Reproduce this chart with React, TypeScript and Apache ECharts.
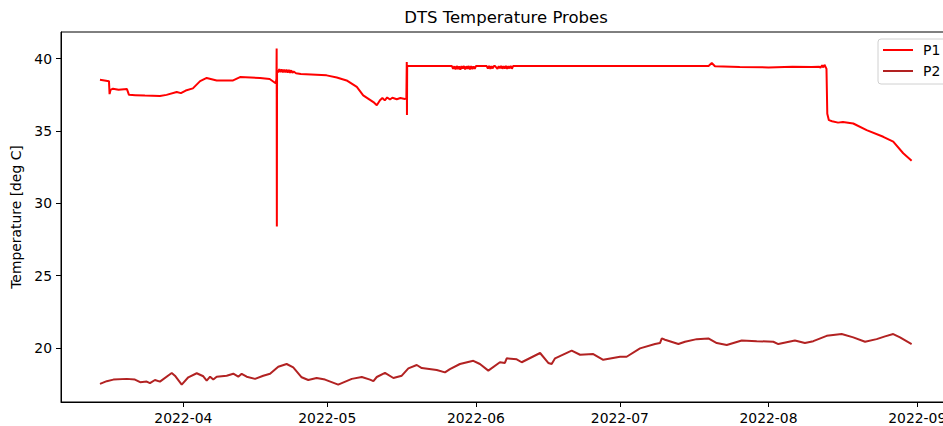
import React, { useEffect, useRef } from "react";
import * as echarts from "echarts";

const titleText = "DTS Temperature Probes";
const yAxisName = "Temperature [deg C]";
const seriesNames = ["P1", "P2"];
const monthTicks = ["2022-04", "2022-05", "2022-06", "2022-07", "2022-08", "2022-09"];
const yTicks = [20, 25, 30, 35, 40];

const p1Times = [
  "2022-03-14 15:00", "2022-03-16 12:00", "2022-03-16 15:00", "2022-03-16 20:00", "2022-03-17 08:00",
  "2022-03-18 12:00", "2022-03-20 06:00", "2022-03-20 16:00", "2022-03-22 00:00", "2022-03-24 00:00",
  "2022-03-27 03:00", "2022-03-28 12:00", "2022-03-30 15:00", "2022-03-31 12:00", "2022-04-01 12:00",
  "2022-04-03 00:00", "2022-04-04 12:00", "2022-04-05 21:00", "2022-04-07 23:00", "2022-04-11 09:00",
  "2022-04-12 20:00", "2022-04-17 00:00", "2022-04-19 00:00", "2022-04-20 06:00", "2022-04-20 10:00",
  "2022-04-20 11:00", "2022-04-20 12:00", "2022-04-20 13:00",
  "2022-04-20 18:00", "2022-04-21 00:00", "2022-04-21 06:00", "2022-04-21 12:00", "2022-04-21 18:00",
  "2022-04-22 00:00", "2022-04-22 06:00", "2022-04-22 12:00", "2022-04-22 18:00", "2022-04-23 00:00",
  "2022-04-23 06:00", "2022-04-23 12:00", "2022-04-23 18:00", "2022-04-24 00:00", "2022-04-24 12:00",
  "2022-04-25 12:00",
  "2022-04-30 21:00", "2022-05-03 00:00", "2022-05-05 01:00", "2022-05-07 04:00", "2022-05-08 12:00",
  "2022-05-10 15:00", "2022-05-11 08:00", "2022-05-12 00:00", "2022-05-12 12:00", "2022-05-13 00:00",
  "2022-05-13 12:00", "2022-05-14 02:00", "2022-05-14 14:00", "2022-05-15 12:00", "2022-05-16 06:00",
  "2022-05-17 05:00", "2022-05-17 12:00", "2022-05-17 14:00", "2022-05-17 15:00", "2022-05-17 16:00",
  "2022-05-27 00:00", "2022-05-27 06:00", "2022-05-27 12:00", "2022-05-27 18:00", "2022-05-28 00:00",
  "2022-05-28 06:00", "2022-05-28 12:00", "2022-05-28 18:00", "2022-05-29 00:00", "2022-05-29 06:00",
  "2022-05-29 12:00", "2022-05-29 18:00", "2022-05-30 00:00", "2022-05-30 06:00", "2022-05-30 12:00",
  "2022-05-30 18:00", "2022-05-31 00:00", "2022-05-31 06:00", "2022-05-31 12:00", "2022-05-31 18:00",
  "2022-06-01 00:00",
  "2022-06-03 06:00", "2022-06-03 12:00", "2022-06-03 18:00", "2022-06-04 00:00", "2022-06-04 06:00",
  "2022-06-04 12:00", "2022-06-04 18:00", "2022-06-05 00:00", "2022-06-05 12:00", "2022-06-05 18:00",
  "2022-06-06 00:00", "2022-06-06 06:00", "2022-06-06 12:00", "2022-06-06 18:00", "2022-06-07 00:00",
  "2022-06-07 06:00", "2022-06-07 12:00", "2022-06-07 18:00", "2022-06-08 00:00", "2022-06-08 06:00",
  "2022-06-08 12:00", "2022-06-08 18:00", "2022-06-09 00:00",
  "2022-07-19 12:00", "2022-07-20 04:00", "2022-07-20 20:00", "2022-07-26 00:00", "2022-08-01 00:00",
  "2022-08-06 00:00", "2022-08-10 00:00", "2022-08-11 12:00", "2022-08-11 20:00", "2022-08-12 04:00",
  "2022-08-12 10:00", "2022-08-12 16:00", "2022-08-12 22:00", "2022-08-13 02:00", "2022-08-13 06:00",
  "2022-08-13 14:00", "2022-08-14 06:00", "2022-08-15 12:00", "2022-08-16 12:00", "2022-08-18 16:00",
  "2022-08-21 11:00", "2022-08-24 22:00", "2022-08-27 00:00", "2022-08-29 02:00", "2022-08-30 20:00",
];
const p1Values = [
  38.55, 38.45, 37.55, 37.85, 37.93,
  37.85, 37.9, 37.5, 37.48, 37.45,
  37.42, 37.5, 37.7, 37.62, 37.8,
  37.95, 38.45, 38.67, 38.5, 38.5,
  38.73, 38.67, 38.6, 38.3, 38.6,
  40.7, 28.4, 39.2,
  39.05, 39.28, 39.08, 39.27, 39.05,
  39.25, 39.06, 39.24, 39.04, 39.22,
  39.03, 39.2, 39.02, 39.12, 39.0,
  38.95,
  38.85, 38.7, 38.5, 38.05, 37.47,
  37.0, 36.78, 37.13, 37.28, 37.12,
  37.32, 37.18, 37.3, 37.2, 37.28,
  37.22, 37.25, 39.77, 36.1, 39.49,
  39.49, 39.3, 39.48, 39.26, 39.5,
  39.28, 39.47, 39.25, 39.49, 39.32,
  39.5, 39.27, 39.48, 39.3, 39.5,
  39.26, 39.49, 39.29, 39.47, 39.3,
  39.49,
  39.49, 39.32, 39.5, 39.3, 39.48,
  39.33, 39.5, 39.49, 39.3, 39.49,
  39.34, 39.5, 39.31, 39.49, 39.32,
  39.5, 39.3, 39.48, 39.33, 39.5,
  39.31, 39.49, 39.49,
  39.5, 39.7, 39.48, 39.42, 39.4,
  39.45, 39.42, 39.45, 39.38, 39.55,
  39.4, 39.58, 39.42, 39.3, 36.2,
  35.75, 35.68, 35.58, 35.62, 35.52,
  35.06, 34.6, 34.26, 33.46, 32.95,
];

const p2Times = [
  "2022-03-14 15:00", "2022-03-16 01:00", "2022-03-17 10:00", "2022-03-20 05:00", "2022-03-21 22:00",
  "2022-03-23 00:00", "2022-03-24 09:00", "2022-03-25 01:00", "2022-03-26 02:00", "2022-03-27 03:00",
  "2022-03-29 14:00", "2022-03-30 06:00", "2022-03-31 16:00", "2022-04-02 01:00", "2022-04-03 19:00",
  "2022-04-05 04:00", "2022-04-05 21:00", "2022-04-06 14:00", "2022-04-07 06:00", "2022-04-07 23:00",
  "2022-04-10 01:00", "2022-04-11 10:00", "2022-04-12 11:00", "2022-04-13 04:00", "2022-04-14 05:00",
  "2022-04-15 23:00", "2022-04-17 16:00", "2022-04-19 02:00", "2022-04-20 19:00", "2022-04-22 13:00",
  "2022-04-23 22:00", "2022-04-25 16:00", "2022-04-27 01:00", "2022-04-28 19:00", "2022-04-30 13:00",
  "2022-05-03 07:00", "2022-05-06 03:00", "2022-05-08 05:00", "2022-05-09 22:00", "2022-05-10 15:00",
  "2022-05-11 08:00", "2022-05-13 01:00", "2022-05-14 19:00", "2022-05-16 13:00", "2022-05-17 22:00",
  "2022-05-19 16:00", "2022-05-20 17:00", "2022-05-23 20:00", "2022-05-25 13:00", "2022-05-26 14:00",
  "2022-05-28 16:00", "2022-05-31 11:00", "2022-06-01 20:00", "2022-06-03 14:00", "2022-06-06 00:00",
  "2022-06-07 01:00", "2022-06-07 10:00", "2022-06-09 12:00", "2022-06-10 13:00", "2022-06-14 09:00",
  "2022-06-16 02:00", "2022-06-16 19:00", "2022-06-17 12:00", "2022-06-20 23:00", "2022-06-22 17:00",
  "2022-06-25 11:00", "2022-06-27 13:00", "2022-07-01 01:00", "2022-07-02 10:00", "2022-07-05 05:00",
  "2022-07-08 08:00", "2022-07-09 09:00", "2022-07-09 18:00", "2022-07-10 10:00", "2022-07-13 05:00",
  "2022-07-14 14:00", "2022-07-17 01:00", "2022-07-19 11:00", "2022-07-21 05:00", "2022-07-23 07:00",
  "2022-07-26 10:00", "2022-07-29 13:00", "2022-08-02 00:00", "2022-08-03 01:00", "2022-08-06 12:00",
  "2022-08-08 14:00", "2022-08-10 08:00", "2022-08-13 03:00", "2022-08-16 06:00", "2022-08-18 16:00",
  "2022-08-21 03:00", "2022-08-23 13:00", "2022-08-25 07:00", "2022-08-27 00:00", "2022-08-28 10:00",
  "2022-08-30 20:00",
];
const p2Values = [
  17.5, 17.69, 17.8, 17.85, 17.8,
  17.62, 17.66, 17.55, 17.77, 17.66,
  18.26, 18.07, 17.45, 17.96, 18.24,
  18.03, 17.73, 18.0, 17.8, 18.0,
  18.07, 18.21, 18.0, 18.2, 18.0,
  17.85, 18.07, 18.2, 18.69, 18.88,
  18.65, 17.96, 17.77, 17.91, 17.8,
  17.45, 17.85, 17.98, 17.8, 17.69,
  17.98, 18.26, 17.91, 18.07, 18.58,
  18.81, 18.6, 18.46, 18.3, 18.53,
  18.88, 19.1, 18.88, 18.42, 19.0,
  18.95, 19.27, 19.2, 19.0, 19.64,
  18.95, 18.88, 19.27, 19.8, 19.52,
  19.57, 19.17, 19.38, 19.38, 19.96,
  20.26, 20.33, 20.65, 20.56, 20.26,
  20.42, 20.6, 20.65, 20.33, 20.19,
  20.5, 20.46, 20.42, 20.26, 20.5,
  20.33, 20.46, 20.83, 20.95, 20.72,
  20.42, 20.6, 20.79, 20.95, 20.72,
  20.26,
];

const FONT = "DejaVu Sans";

function parseTime(s: string): number {
  const [datePart, timePart] = s.split(" ");
  const [y, m, d] = datePart.split("-").map(Number);
  const [hh, mm] = (timePart || "00:00").split(":").map(Number);
  return new Date(y, m - 1, d, hh, mm).getTime();
}
function monthStart(s: string): number {
  const [y, m] = s.split("-").map(Number);
  return new Date(y, m - 1, 1).getTime();
}
function pad(n: number) {
  return n < 10 ? "0" + n : "" + n;
}

export default function App() {
  const ref = useRef<HTMLDivElement>(null);
  useEffect(() => {
    if (!ref.current) return;
    const chart = echarts.init(ref.current, null, { renderer: "svg" });
    const monthVals = monthTicks.map(monthStart);
    const xMin = new Date(2022, 2, 6, 12).getTime();
    const xMax = new Date(2022, 8, 8, 6).getTime();
    chart.setOption({
      animation: false,
      backgroundColor: "#ffffff",
      textStyle: { fontFamily: FONT },
      title: {
        text: titleText,
        left: 506,
        textAlign: "center",
        top: 9,
        padding: 0,
        textStyle: { fontFamily: FONT, fontSize: 16.5, fontWeight: "normal", color: "#000" },
      },
      legend: {
        orient: "vertical",
        left: 878,
        top: 39,
        padding: [4, 12, 6, 4],
        itemWidth: 30,
        itemHeight: 14,
        itemGap: 7,
        backgroundColor: "#ffffff",
        borderColor: "#d0d0d0",
        borderWidth: 1,
        borderRadius: 3,
        itemStyle: { opacity: 0 },
        textStyle: { fontFamily: FONT, fontSize: 13.9, color: "#000", padding: [0, 0, 0, 5] },
        data: seriesNames,
      },
      grid: {
        left: 61,
        top: 32,
        width: 891,
        height: 370,
        containLabel: false,
        outerBoundsMode: "none",
        show: true,
        borderColor: "#000",
        borderWidth: 1,
        backgroundColor: "transparent",
      },
      xAxis: {
        type: "value",
        min: xMin,
        max: xMax,
        axisLine: { show: true, lineStyle: { color: "#000", width: 1 } },
        axisTick: { show: true, length: 5, lineStyle: { color: "#000", width: 1 }, customValues: monthVals },
        axisLabel: {
          customValues: monthVals,
          margin: 9,
          fontFamily: FONT,
          fontSize: 13.9,
          color: "#000",
          formatter: (v: number) => {
            const d = new Date(v);
            return d.getFullYear() + "-" + pad(d.getMonth() + 1);
          },
        },
        splitLine: { show: false },
        minorTick: { show: false },
      },
      yAxis: {
        type: "value",
        min: 16.25,
        max: 41.85,
        name: yAxisName,
        nameLocation: "middle",
        nameGap: 33,
        nameTextStyle: { fontFamily: FONT, fontSize: 13.9, color: "#000" },
        axisLine: { show: true, lineStyle: { color: "#000", width: 1 } },
        axisTick: { show: true, length: 5, lineStyle: { color: "#000", width: 1 }, customValues: yTicks },
        axisLabel: { customValues: yTicks, margin: 9, fontFamily: FONT, fontSize: 13.9, color: "#000" },
        splitLine: { show: false },
      },
      series: [
        {
          name: seriesNames[0],
          type: "line",
          symbol: "none",
          showSymbol: false,
          data: p1Times.map((t, i) => [parseTime(t), p1Values[i]]),
          lineStyle: { color: "#ff0000", width: 2 },
          itemStyle: { color: "#ff0000" },
          z: 3,
        },
        {
          name: seriesNames[1],
          type: "line",
          symbol: "none",
          showSymbol: false,
          data: p2Times.map((t, i) => [parseTime(t), p2Values[i]]),
          lineStyle: { color: "#b22222", width: 2 },
          itemStyle: { color: "#b22222" },
          z: 2,
        },
      ],
    });
    return () => chart.dispose();
  }, []);
  return <div ref={ref} style={{ position: "fixed", left: 0, top: 0, width: 943, height: 426 }} />;
}
